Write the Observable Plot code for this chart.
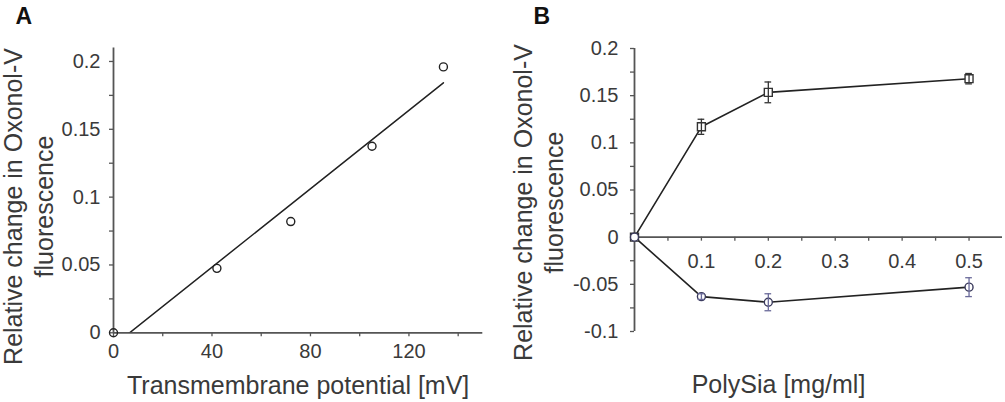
<!DOCTYPE html>
<html><head><meta charset="utf-8">
<script src="https://cdn.jsdelivr.net/npm/d3@7"></script>
<script src="https://cdn.jsdelivr.net/npm/@observablehq/plot@0.6"></script>
<style>
body{margin:0;background:#fff;}
#wrap{display:flex;width:1005px;height:402px;overflow:hidden;}
</style></head><body><div id="wrap"></div>
<script>
// ---------- Panel A data ----------
const potentialMV = [0, 42, 72, 105, 134];
const fluorescenceA = [0, 0.0475, 0.082, 0.1375, 0.196];
const xTicksA = [0, 40, 80, 120];
const xMinorA = [20, 60, 100, 140];
const yTicksA = [0, 0.05, 0.1, 0.15, 0.2];
const yMinorA = [0.025, 0.075, 0.125, 0.175];
const xDomainA = [0, 150];
const yDomainA = [0, 0.21];

// ---------- Panel B data ----------
const polySia = [0, 0.1, 0.2, 0.5];
const squareMean = [0, 0.117, 0.1535, 0.168];
const squareErr = [0, 0.008, 0.011, 0.0055];
const circleMean = [0, -0.063, -0.069, -0.053];
const circleErr = [0, 0.003, 0.009, 0.010];
const xTicksB = [0.1, 0.2, 0.3, 0.4, 0.5];
const xMinorB = [0.05, 0.15, 0.25, 0.35, 0.45];
const yTicksB = [-0.1, -0.05, 0, 0.05, 0.1, 0.15, 0.2];
const yMinorB = [-0.075, -0.025, 0.025, 0.075, 0.125, 0.175];
const xDomainB = [0, 0.55];
const yDomainB = [-0.1, 0.2];

const yTitle = "Relative change in Oxonol-V\nfluorescence";
const xTitleA = "Transmembrane potential [mV]";
const xTitleB = "PolySia [mg/ml]";

const font = "'Liberation Sans', Arial, Helvetica, sans-serif";
const textColor = "#3a3a3a";
const axisColor = "#555";

const ptsA = potentialMV.map((x, i) => ({x, y: fluorescenceA[i]}));
const sq = polySia.map((x, i) => ({x, y: squareMean[i], e: squareErr[i]}));
const ci = polySia.map((x, i) => ({x, y: circleMean[i], e: circleErr[i]}));
const cap = 0.005;

// ---------- Panel A ----------
const A = {W: 500, H: 402, mL: 113, mR: 17.7, mT: 47.4, mB: 69.7};
const plotA = Plot.plot({
  width: A.W, height: A.H,
  marginLeft: A.mL, marginRight: A.mR, marginTop: A.mT, marginBottom: A.mB,
  style: {fontFamily: font, background: "white", overflow: "visible"},
  x: {domain: xDomainA, axis: null, label: null},
  y: {domain: yDomainA, axis: null, label: null},
  marks: [
    Plot.axisY({ticks: yMinorA, tickSize: 4, fill: "none", stroke: axisColor, strokeWidth: 1.3, label: null}),
    Plot.axisY({ticks: yTicksA, tickSize: 4, tickPadding: 9, fontSize: 20, fill: textColor, stroke: axisColor, strokeWidth: 1.3, tickFormat: d => String(d), label: null}),
    Plot.axisX({ticks: xMinorA, tickSize: 4, fill: "none", stroke: axisColor, strokeWidth: 1.3, label: null}),
    Plot.axisX({ticks: xTicksA, tickSize: 4, tickPadding: 7, fontSize: 20, fill: textColor, stroke: axisColor, strokeWidth: 1.3, tickFormat: d => String(d), label: null}),
    Plot.ruleX([0], {stroke: axisColor, strokeWidth: 1.8}),
    Plot.ruleY([0], {stroke: axisColor, strokeWidth: 1.8}),
    Plot.linearRegressionY(ptsA, {x: "x", y: "y", ci: 0, stroke: "#222", strokeWidth: 1.5, clip: true}),
    Plot.dot(ptsA, {x: "x", y: "y", r: 4, stroke: "#222", strokeWidth: 1.4, fill: "none"}),
    Plot.text([yTitle], {frameAnchor: "left", dx: 27 - A.mL, dy: 206 - (A.mT + (A.H - A.mT - A.mB) / 2), rotate: -90, textAnchor: "middle", lineAnchor: "middle", lineHeight: 1.22, fontSize: 25, fill: textColor}),
    Plot.text([xTitleA], {frameAnchor: "bottom", dy: 61, lineAnchor: "bottom", fontSize: 25, fill: textColor}),
    Plot.text(["A"], {frameAnchor: "top-left", dx: 15 - A.mL, dy: 23 - A.mT, textAnchor: "start", lineAnchor: "bottom", fontSize: 23, fontWeight: "bold", fill: "#111"})
  ]
});

// ---------- Panel B ----------
const B = {W: 505, H: 402, mL: 134, mR: 3, mT: 48, mB: 71};
const frameHB = B.H - B.mT - B.mB;
const zeroOffset = -(0 - yDomainB[0]) / (yDomainB[1] - yDomainB[0]) * frameHB;
const plotB = Plot.plot({
  width: B.W, height: B.H,
  marginLeft: B.mL, marginRight: B.mR, marginTop: B.mT, marginBottom: B.mB,
  style: {fontFamily: font, background: "white", overflow: "visible"},
  x: {domain: xDomainB, axis: null, label: null},
  y: {domain: yDomainB, axis: null, label: null},
  marks: [
    Plot.axisY({ticks: yMinorB, tickSize: 4, fill: "none", stroke: axisColor, strokeWidth: 1.3, label: null}),
    Plot.axisY({ticks: yTicksB, tickSize: 4, tickPadding: 12, fontSize: 20, fill: textColor, stroke: axisColor, strokeWidth: 1.3, tickFormat: d => String(d), label: null}),
    Plot.axisX({ticks: xMinorB, tickSize: 4, dy: zeroOffset, fill: "none", stroke: axisColor, strokeWidth: 1.3, label: null}),
    Plot.axisX({ticks: xTicksB, tickSize: 4, tickPadding: 13, dy: zeroOffset, fontSize: 20, fill: textColor, stroke: axisColor, strokeWidth: 1.3, tickFormat: d => String(d), label: null}),
    Plot.ruleX([0], {stroke: axisColor, strokeWidth: 1.8}),
    Plot.ruleY([0], {stroke: axisColor, strokeWidth: 1.8}),
    Plot.line(sq, {x: "x", y: "y", stroke: "#222", strokeWidth: 1.6}),
    Plot.line(ci, {x: "x", y: "y", stroke: "#222", strokeWidth: 1.6}),
    Plot.dot(sq, {x: "x", y: "y", symbol: "square", r: 4.5, stroke: "#333", strokeWidth: 1.4, fill: "white"}),
    Plot.dot(ci, {x: "x", y: "y", symbol: "circle", r: 4, stroke: "#3a3a5c", strokeWidth: 1.4, fill: "white"}),
    Plot.ruleX(sq.filter(d => d.e > 0), {x: "x", y1: d => d.y - d.e, y2: d => d.y + d.e, stroke: "#333", strokeWidth: 1.3}),
    Plot.ruleY(sq.filter(d => d.e > 0), {y: d => d.y - d.e, x1: d => d.x - cap, x2: d => d.x + cap, stroke: "#333", strokeWidth: 1.3}),
    Plot.ruleY(sq.filter(d => d.e > 0), {y: d => d.y + d.e, x1: d => d.x - cap, x2: d => d.x + cap, stroke: "#333", strokeWidth: 1.3}),
    Plot.ruleX(ci.filter(d => d.e > 0), {x: "x", y1: d => d.y - d.e, y2: d => d.y + d.e, stroke: "#6a6a9a", strokeWidth: 1.3}),
    Plot.ruleY(ci.filter(d => d.e > 0), {y: d => d.y - d.e, x1: d => d.x - cap, x2: d => d.x + cap, stroke: "#6a6a9a", strokeWidth: 1.3}),
    Plot.ruleY(ci.filter(d => d.e > 0), {y: d => d.y + d.e, x1: d => d.x - cap, x2: d => d.x + cap, stroke: "#6a6a9a", strokeWidth: 1.3}),
    Plot.text([yTitle], {frameAnchor: "left", dx: 37 - B.mL, dy: 202 - (B.mT + frameHB / 2), rotate: -90, textAnchor: "middle", lineAnchor: "middle", lineHeight: 1.22, fontSize: 25, fill: textColor}),
    Plot.text([xTitleB], {frameAnchor: "bottom", dx: 278 - (B.mL + (B.W - B.mL - B.mR) / 2), dy: 61, lineAnchor: "bottom", fontSize: 25, fill: textColor}),
    Plot.text(["B"], {frameAnchor: "top-left", dx: 33 - B.mL, dy: 23 - B.mT, textAnchor: "start", lineAnchor: "bottom", fontSize: 23, fontWeight: "bold", fill: "#111"})
  ]
});

const wrap = document.getElementById("wrap");
wrap.appendChild(plotA);
wrap.appendChild(plotB);
</script></body></html>
